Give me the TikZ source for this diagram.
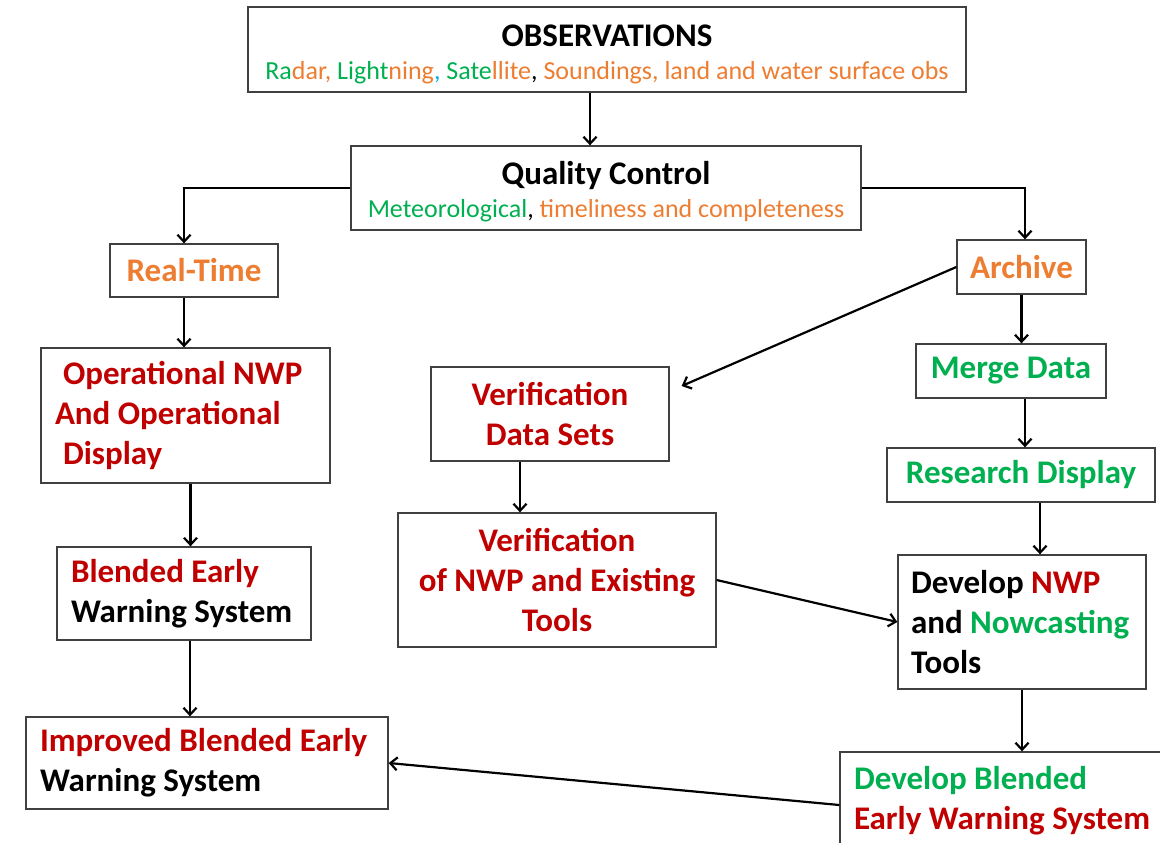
\documentclass[tikz,border=0pt]{standalone}
\usepackage{fontspec}
\setmainfont{Carlito}
\usepackage{xcolor}
\usepackage{tikz}
\usetikzlibrary{arrows.meta}

\definecolor{wxred}{RGB}{192,0,0}
\definecolor{wxgreen}{RGB}{0,176,80}
\definecolor{wxorange}{RGB}{237,125,49}
\definecolor{wxblue}{RGB}{0,176,240}

\begin{document}
\begin{tikzpicture}[x=1pt, y=-1pt,
  box/.style={draw=black!75, line width=1.3pt, fill=white, inner sep=0pt, align=center,
    font=\bfseries\fontsize{33}{40}\selectfont},
  leftbox/.style={box, align=flush left, inner xsep=14pt, inner ysep=0pt},
  arr/.style={line width=2.2pt, -{Straight Barb[length=7pt,width=13pt]}}]
 \useasboundingbox (0,0) rectangle (1160,843);
 % top
 \node[box, minimum width=718pt, minimum height=85pt] (obs) at (607,49.5)
   {\rule{0pt}{31pt}\fontsize{33}{35}\selectfont OBSERVATIONS\\[-7pt]
    {\mdseries\fontsize{26}{35}\selectfont\textcolor{wxgreen}{Ra}\textcolor{wxorange}{dar,}
     \textcolor{wxgreen}{Light}\textcolor{wxorange}{ning}\textcolor{wxblue}{,}
     \textcolor{wxgreen}{Sate}\textcolor{wxorange}{llite},
     \textcolor{wxorange}{Soundings, land and water surface obs}}};
 \node[box, minimum width=510pt, minimum height=84pt] (qc) at (606,188)
   {\rule{0pt}{30pt}\fontsize{33}{35}\selectfont Quality Control\\[-7pt]
    {\mdseries\fontsize{26}{35}\selectfont\textcolor{wxgreen}{Meteorological},
     \textcolor{wxorange}{timeliness and completeness}}};
 \node[box, minimum width=168pt, minimum height=53pt, text=wxorange] (rt) at (194,270.5) {Real-Time};
 \node[box, minimum width=129pt, minimum height=54pt, text=wxorange] (arch) at (1021.5,267) {Archive};
 % left column
 \node[leftbox, text width=261pt, minimum height=135pt, text=wxred] (oper) at (185.5,415.5)
   {\hspace*{8pt}Operational NWP\\And Operational\\\hspace*{8pt}Display};
 \node[leftbox, text width=226pt, minimum height=93pt] (blend) at (184,593.5)
   {\textcolor{wxred}{Blended Early}\\Warning System};
 \node[leftbox, text width=334pt, minimum height=92pt] (impr) at (207,763)
   {\textcolor{wxred}{Improved Blended Early}\\Warning System};
 % middle column
 \node[box, minimum width=238pt, minimum height=94pt, text=wxred] (vds) at (550,414)
   {Verification\\Data Sets};
 \node[box, minimum width=318pt, minimum height=134pt, text=wxred] (vnwp) at (557,580)
   {Verification\\of NWP and Existing\\Tools};
 % right column
 \node[box, minimum width=190pt, minimum height=54pt, text=wxgreen] (merge) at (1011,371) {Merge Data};
 \node[box, minimum width=268pt, minimum height=54pt, text=wxgreen] (rdisp) at (1021,475) {Research Display};
 \node[leftbox, inner xsep=13pt, text width=222pt, minimum height=134pt] (dnwp) at (1022,622)
   {Develop \textcolor{wxred}{NWP}\\and \textcolor{wxgreen}{Nowcasting}\\Tools};
 \node[leftbox, text width=302pt, minimum height=98pt] (dblend) at (1005,801)
   {\textcolor{wxgreen}{Develop Blended}\\\textcolor{wxred}{Early Warning System}};
 % connectors
 \draw[arr] ([xshift=-17pt]obs.south) -- ([xshift=-17pt]obs.south |- qc.north);
 \draw[arr] (qc.west) -| ([xshift=-10pt]rt.north);
 \draw[arr] (qc.east) -| ([xshift=3.5pt]arch.north);
 \draw[arr] ([xshift=-10pt]rt.south) -- ([xshift=-10pt]rt.south |- oper.north);
 \draw[arr] ([xshift=5pt]oper.south) -- ([xshift=5pt]oper.south |- blend.north);
 \draw[arr] ([xshift=6pt]blend.south) -- ([xshift=6pt]blend.south |- impr.north);
 \draw[arr] (arch.west) -- ([xshift=12pt,yshift=28pt]vds.east);
 \draw[arr] ([xshift=-30pt]vds.south) -- ([xshift=-30pt]vds.south |- vnwp.north);
 \draw[arr] (vnwp.east) -- (dnwp.west);
 \draw[arr] (arch.south) -- (arch.south |- merge.north);
 \draw[arr] ([xshift=14pt]merge.south) -- ([xshift=14pt]merge.south |- rdisp.north);
 \draw[arr] ([xshift=19pt]rdisp.south) -- ([xshift=19pt]rdisp.south |- dnwp.north);
 \draw[arr] (dnwp.south) -- (dnwp.south |- dblend.north);
 \draw[arr] ([yshift=-4pt]dblend.west) -- (impr.east);
\end{tikzpicture}
\end{document}
